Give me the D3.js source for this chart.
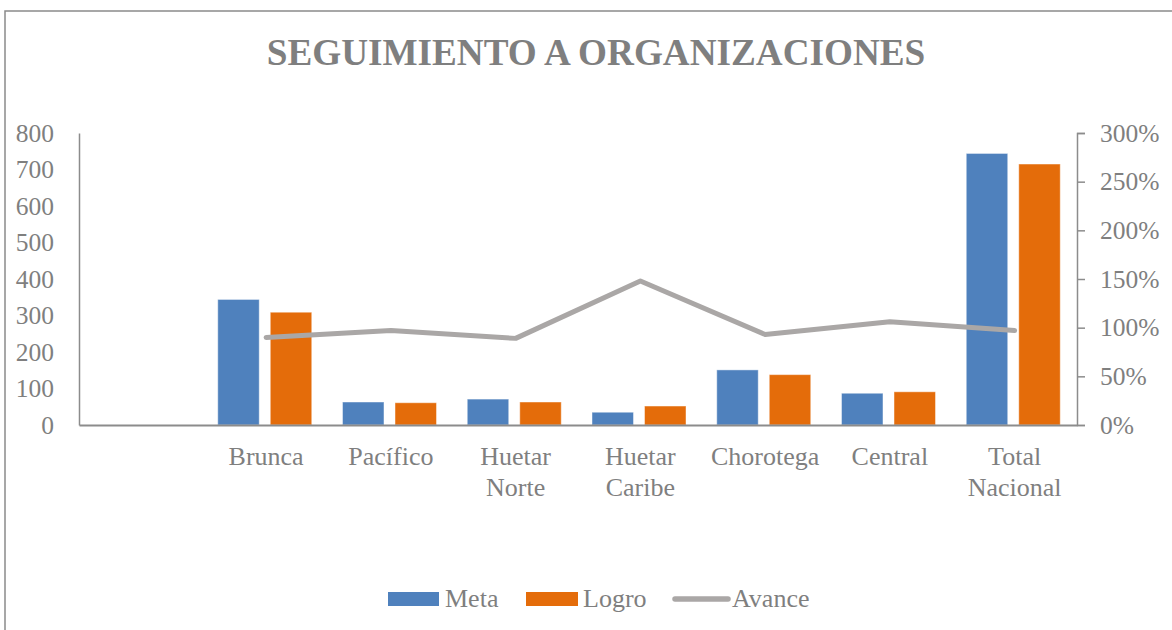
<!DOCTYPE html>
<html lang="es">
<head>
    <meta charset="UTF-8">
    <title>Seguimiento a organizaciones</title>
    <script src="https://d3js.org/d3.v7.min.js"></script>
    <style>
        body { margin: 0; background: #fff; }
        text { font-family: "Liberation Serif", "Times New Roman", serif; fill: #7f7f7f; }
    </style>
</head>
<body>
<svg width="1172" height="630"></svg>
<script>
    // data
    var categories = ["", "Brunca", "Pacífico", "Huetar Norte", "Huetar Caribe", "Chorotega", "Central", "Total Nacional"];
    var meta = [null, 344, 63, 71, 35, 151, 87, 744];
    var logro = [null, 309, 61, 63, 52, 138, 91, 715];
    var avance = [null, 0.90, 0.97, 0.89, 1.48, 0.93, 1.06, 0.97];
    var leftTicks = [0, 100, 200, 300, 400, 500, 600, 700, 800];
    var rightTicks = [0, 0.5, 1, 1.5, 2, 2.5, 3];
    var seriesNames = ["Meta", "Logro"];

    var colors = {Meta: "#4f81bd", Logro: "#e46c0a", Avance: "#aaa7a6"};
    var axisColor = "#8c8c8c";

    var svg = d3.select("svg");
    var plotLeft = 79, plotRight = 1077, plotTop = 133, plotBottom = 425;

    // chart frame (only left and top edges show)
    svg.append("rect")
        .attr("x", 5).attr("y", 11)
        .attr("width", 1200).attr("height", 700)
        .attr("fill", "none").attr("stroke", "#8a8a8a").attr("stroke-width", 1.5);

    svg.append("text")
        .attr("x", 596).attr("y", 65)
        .attr("text-anchor", "middle")
        .attr("font-size", 37.2).attr("font-weight", "bold")
        .text("SEGUIMIENTO A ORGANIZACIONES");

    var x = d3.scaleBand().domain(categories).range([plotLeft, plotRight]).padding(0);
    var x1 = d3.scaleBand().domain(seriesNames).range([14, 108]).paddingInner(0.21);
    var y = d3.scaleLinear().domain([0, 800]).range([plotBottom, plotTop]);
    var y2 = d3.scaleLinear().domain([0, 3]).range([plotBottom, plotTop]);

    var rows = categories.map(function (c, i) {
        return {cat: c, Meta: meta[i], Logro: logro[i], Avance: avance[i]};
    });

    // bars
    var groups = svg.selectAll(".grp")
        .data(rows)
        .enter().append("g")
        .attr("class", "grp")
        .attr("transform", function (d) { return "translate(" + x(d.cat) + ",0)"; });

    groups.selectAll("rect")
        .data(function (d) {
            return seriesNames.filter(function (s) { return d[s] != null; })
                .map(function (s) { return {key: s, value: d[s]}; });
        })
        .enter().append("rect")
        .attr("x", function (d) { return x1(d.key); })
        .attr("y", function (d) { return y(d.value); })
        .attr("width", x1.bandwidth())
        .attr("height", function (d) { return y(0) - y(d.value); })
        .attr("fill", function (d) { return colors[d.key]; })
        .attr("stroke", "#ffffff").attr("stroke-opacity", 0.45).attr("stroke-width", 1);

    // axes
    var yAxis = svg.append("g")
        .attr("transform", "translate(" + plotLeft + ",0)")
        .call(d3.axisLeft(y).tickValues(leftTicks).tickSize(0).tickPadding(25));
    var y2Axis = svg.append("g")
        .attr("transform", "translate(" + plotRight + ",0)")
        .call(d3.axisRight(y2).tickValues(rightTicks).tickSize(8).tickPadding(15)
            .tickFormat(d3.format(".0%")));
    [yAxis, y2Axis].forEach(function (g) {
        g.selectAll("text").attr("font-size", 25.5).attr("fill", "#7f7f7f")
            .style("font-family", "'Liberation Serif', 'Times New Roman', serif");
        g.selectAll("line, path").attr("stroke", axisColor).attr("stroke-width", 1.5);
    });

    var xAxis = svg.append("g")
        .attr("transform", "translate(0," + plotBottom + ")")
        .call(d3.axisBottom(x).tickSize(0).tickSizeOuter(0).tickFormat(""));
    xAxis.select("path").attr("stroke", axisColor).attr("stroke-width", 2);

    // category labels, wrapped onto two lines
    svg.selectAll(".cat")
        .data(categories)
        .enter().append("text")
        .attr("class", "cat")
        .attr("text-anchor", "middle")
        .attr("font-size", 26)
        .attr("y", 465)
        .each(function (c) {
            var t = d3.select(this);
            c.split(" ").forEach(function (w, i) {
                t.append("tspan")
                    .attr("x", x(c) + x.bandwidth() / 2)
                    .attr("dy", i === 0 ? 0 : 31)
                    .text(w);
            });
        });

    // Avance line
    var line = d3.line()
        .defined(function (d) { return d.Avance != null; })
        .x(function (d) { return x(d.cat) + x.bandwidth() / 2; })
        .y(function (d) { return y2(d.Avance); });
    svg.append("path")
        .datum(rows)
        .attr("d", line)
        .attr("fill", "none")
        .attr("stroke", colors.Avance)
        .attr("stroke-width", 5)
        .attr("stroke-linecap", "round")
        .attr("stroke-linejoin", "round");

    // legend
    var legend = svg.append("g").attr("transform", "translate(388,0)");
    legend.append("rect").attr("x", 0).attr("y", 592).attr("width", 51).attr("height", 14).attr("fill", colors.Meta);
    legend.append("text").attr("x", 57).attr("y", 607).attr("font-size", 26).text("Meta");
    legend.append("rect").attr("x", 138).attr("y", 592).attr("width", 52).attr("height", 14).attr("fill", colors.Logro);
    legend.append("text").attr("x", 195).attr("y", 607).attr("font-size", 26).text("Logro");
    legend.append("line").attr("x1", 287).attr("x2", 340).attr("y1", 599).attr("y2", 599)
        .attr("stroke", colors.Avance).attr("stroke-width", 5.5).attr("stroke-linecap", "round");
    legend.append("text").attr("x", 344).attr("y", 607).attr("font-size", 26).text("Avance");
</script>
</body>
</html>
